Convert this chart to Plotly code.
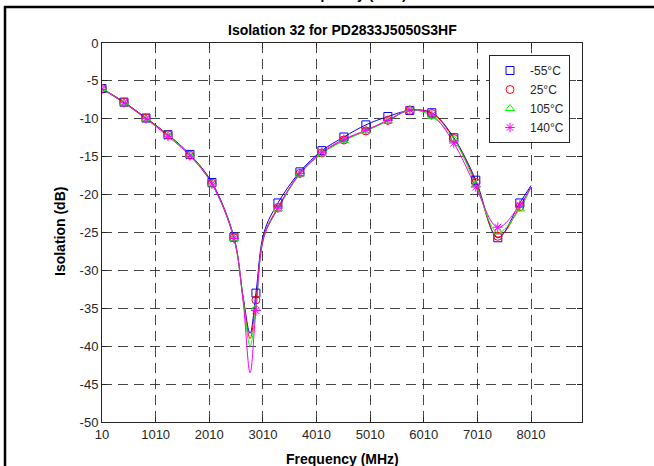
import plotly.graph_objects as go

# ---------------- data ----------------
series_names = ["-55°C", "25°C", "105°C", "140°C"]
series_colors = ["#0000FF", "#FF0000", "#00FF00", "#FF00FF"]
series_symbols = ["square-open", "circle-open", "triangle-up-open", "asterisk-open"]

# marker sample frequencies (MHz)
marker_freq = [10, 420, 830, 1240, 1650, 2060, 2470, 2880, 3290, 3700,
               4110, 4520, 4930, 5340, 5750, 6160, 6570, 6980, 7390, 7800]

marker_m55 = [-6.0, -7.8, -9.9, -12.1, -14.7, -18.4, -25.6, -33.0, -21.1, -17.0,
              -14.2, -12.4, -10.8, -9.7, -8.9, -9.2, -12.5, -18.1, -25.7, -21.1]
marker_25 = [-6.0, -7.8, -9.9, -12.1, -14.8, -18.5, -25.7, -33.9, -21.7, -17.2,
             -14.5, -12.8, -11.6, -10.2, -8.9, -9.3, -12.6, -18.4, -25.5, -21.6]
marker_105 = [-6.0, -7.9, -10.0, -12.2, -14.8, -18.6, -25.8, -35.0, -21.9, -17.3,
              -14.6, -12.9, -11.6, -10.3, -8.8, -9.7, -12.7, -18.7, -24.9, -21.9]
marker_140 = [-6.1, -7.9, -10.0, -12.3, -14.9, -18.6, -25.8, -35.3, -21.8, -17.2,
              -14.4, -12.7, -11.5, -10.2, -8.8, -9.5, -13.2, -19.0, -24.3, -21.4]

# curve samples (markers plus points)
line_freq = [10, 420, 830, 1240, 1650, 2060, 2470, 2640, 2771, 2880, 3030, 3290, 3700,
             4110, 4520, 4930, 5340, 5750, 6160, 6570, 6980, 7390, 7800, 8010]
line_m55 = [-6.0, -7.8, -9.9, -12.1, -14.7, -18.4, -25.6, -33.4, -38.3, -33.0, -25.0, -21.1, -17.0,
            -14.2, -12.4, -10.8, -9.7, -8.9, -9.2, -12.5, -18.1, -25.7, -21.1, -18.8]
line_25 = [-6.0, -7.8, -9.9, -12.1, -14.8, -18.5, -25.7, -33.6, -39.0, -33.9, -25.4, -21.7, -17.2,
           -14.5, -12.8, -11.6, -10.2, -8.9, -9.3, -12.6, -18.4, -25.6, -21.6, -19.0]
line_105 = [-6.0, -7.9, -10.0, -12.2, -14.8, -18.6, -25.8, -33.8, -40.0, -35.0, -25.6, -21.9, -17.3,
            -14.6, -12.9, -11.6, -10.3, -8.8, -9.7, -12.7, -18.7, -25.0, -21.9, -19.0]
line_140 = [-6.1, -7.9, -10.0, -12.3, -14.9, -18.6, -25.8, -34.0, -43.5, -35.3, -25.6, -21.8, -17.2,
            -14.4, -12.7, -11.5, -10.2, -8.8, -9.5, -13.2, -19.0, -24.3, -21.4, -19.0]

x_tickvals = [10, 1010, 2010, 3010, 4010, 5010, 6010, 7010, 8010]
x_ticktext = ["10", "1010", "2010", "3010", "4010", "5010", "6010", "7010", "8010"]
y_tickvals = [0, -5, -10, -15, -20, -25, -30, -35, -40, -45, -50]
y_ticktext = ["0", "-5", "-10", "-15", "-20", "-25", "-30", "-35", "-40", "-45", "-50"]

title_text = "Isolation 32 for PD2833J5050S3HF"
x_label = "Frequency (MHz)"
y_label = "Isolation (dB)"

# ---------------- figure ----------------
W, H = 654, 466
L, R, T, B = 102, 72, 43, 44
PW, PH = W - L - R, H - T - B


def px(xp):
    return (xp - L) / PW


def py(yp):
    return (H - B - yp) / PH


FONT = "Liberation Sans, Arial, sans-serif"
AX = "#262626"

fig = go.Figure()

line_vals = [line_m55, line_25, line_105, line_140]
marker_vals = [marker_m55, marker_25, marker_105, marker_140]

for name, col, vals in zip(series_names, series_colors, line_vals):
    fig.add_trace(go.Scatter(x=line_freq, y=vals, mode="lines",
                             line=dict(color=col, width=1, shape="spline", smoothing=1.0),
                             showlegend=False, hoverinfo="skip"))

for name, col, sym, vals in zip(series_names, series_colors, series_symbols, marker_vals):
    fig.add_trace(go.Scatter(x=marker_freq, y=vals, mode="markers", name=name,
                             marker=dict(symbol=sym, size=8, color=col,
                                         line=dict(color=col, width=1))))

axis_common = dict(showline=True, linecolor=AX, linewidth=1, mirror="ticks",
                   ticks="inside", ticklen=5, tickcolor=AX, tickwidth=1,
                   showgrid=True, gridcolor="rgba(38,38,38,0.85)", gridwidth=1,
                   griddash="10px,6px", zeroline=False,
                   tickfont=dict(family=FONT, size=13, color=AX))

fig.update_xaxes(range=[10, 8960], tickvals=x_tickvals, ticktext=x_ticktext, **axis_common)
fig.update_yaxes(range=[-50, 0], tickvals=y_tickvals, ticktext=y_ticktext, **axis_common)

annotations = [
    dict(text=title_text, x=0.5, y=py(30), xref="paper", yref="paper",
         xanchor="center", yanchor="middle", showarrow=False,
         font=dict(family=FONT, size=14, color="#000000", weight="bold")),
    dict(text=x_label, x=0.5, y=py(459), xref="paper", yref="paper",
         xanchor="center", yanchor="middle", showarrow=False,
         font=dict(family=FONT, size=14, color="#000000", weight="bold")),
    dict(text=x_label, x=px(350), y=py(-6), xref="paper", yref="paper",
         xanchor="center", yanchor="middle", showarrow=False,
         font=dict(family=FONT, size=14, color="#000000", weight="bold")),
    dict(text=y_label, x=px(60), y=py(232), xref="paper", yref="paper",
         xanchor="center", yanchor="middle", showarrow=False, textangle=-90,
         font=dict(family=FONT, size=14, color="#000000", weight="bold")),
]

shapes = [
    dict(type="line", xref="paper", yref="paper", x0=px(4), x1=px(660), y0=py(7), y1=py(7),
         line=dict(color="#000000", width=2.5)),
    dict(type="line", xref="paper", yref="paper", x0=px(5), x1=px(5), y0=py(6), y1=py(470),
         line=dict(color="#000000", width=2.5)),
]

fig.update_layout(
    width=W, height=H,
    margin=dict(l=L, r=R, t=T, b=B),
    paper_bgcolor="white", plot_bgcolor="white",
    font=dict(family=FONT, size=13, color=AX),
    annotations=annotations, shapes=shapes,
    showlegend=True,
    legend=dict(x=px(570), y=py(55), xanchor="right", yanchor="top",
                bgcolor="white", bordercolor=AX, borderwidth=1,
                font=dict(family=FONT, size=12, color=AX),
                itemwidth=30, tracegroupgap=0),
)

fig.write_html("out.html")
